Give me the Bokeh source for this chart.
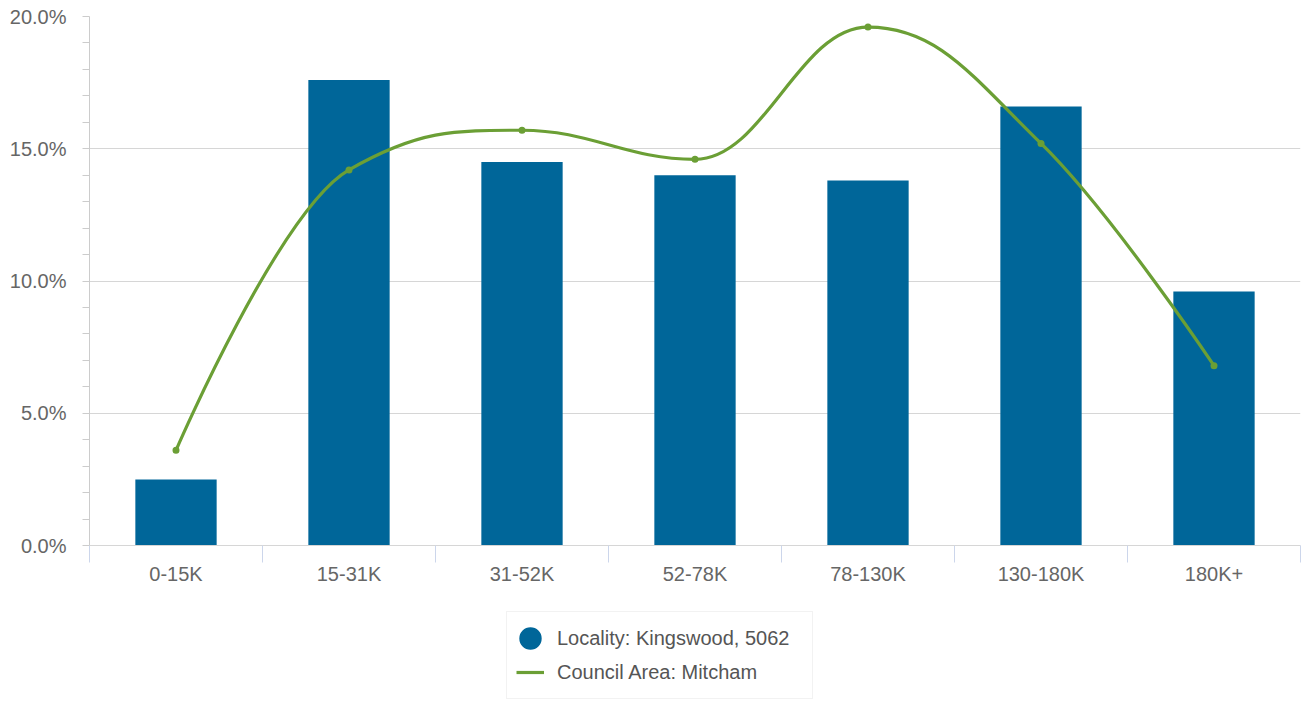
from bokeh.plotting import figure
from bokeh.layouts import column
from bokeh.models import (Range1d, FixedTicker, PrintfTickFormatter, Legend, LegendItem,
                          ColumnDataSource)
from bokeh.embed import file_html
from bokeh.resources import INLINE

categories = ["0-15K", "15-31K", "31-52K", "52-78K", "78-130K", "130-180K", "180K+"]
locality = [2.5, 17.6, 14.5, 14.0, 13.8, 16.6, 9.6]
council = [3.6, 14.2, 15.7, 14.6, 19.6, 15.2, 6.8]
y_ticks = [0, 5, 10, 15, 20]
series_names = ["Locality: Kingswood, 5062", "Council Area: Mitcham"]

BAR = "#006699"
GREEN = "#6b9f35"
TXT = "#666666"
FONT = "Liberation Sans"

centers = [i + 0.5 for i in range(len(categories))]


def spline_controls(xs, ys, smoothing=1.5):
    n = len(xs)
    denom = smoothing + 1
    left = [(xs[i], ys[i]) for i in range(n)]
    right = [(xs[i], ys[i]) for i in range(n)]
    for i in range(1, n - 1):
        px, py = xs[i], ys[i]
        lx, ly = xs[i - 1], ys[i - 1]
        nx, ny = xs[i + 1], ys[i + 1]
        lcx = (smoothing * px + lx) / denom
        lcy = (smoothing * py + ly) / denom
        rcx = (smoothing * px + nx) / denom
        rcy = (smoothing * py + ny) / denom
        if rcx != lcx:
            corr = ((rcy - lcy) * (rcx - px)) / (rcx - lcx) + py - rcy
            lcy += corr
            rcy += corr
        if lcy > ly and lcy > py:
            lcy = max(ly, py); rcy = 2 * py - lcy
        elif lcy < ly and lcy < py:
            lcy = min(ly, py); rcy = 2 * py - lcy
        if rcy > ny and rcy > py:
            rcy = max(ny, py); lcy = 2 * py - rcy
        elif rcy < ny and rcy < py:
            rcy = min(ny, py); lcy = 2 * py - rcy
        left[i] = (lcx, lcy)
        right[i] = (rcx, rcy)
    return left, right


left, right = spline_controls(centers, council)
seg = dict(
    x0=centers[:-1], y0=council[:-1], x1=centers[1:], y1=council[1:],
    cx0=[right[i][0] for i in range(len(centers) - 1)],
    cy0=[right[i][1] for i in range(len(centers) - 1)],
    cx1=[left[i][0] for i in range(1, len(centers))],
    cy1=[left[i][1] for i in range(1, len(centers))],
)

p = figure(width=1301, height=600, output_backend="svg", toolbar_location=None,
           x_range=Range1d(0, len(categories)), y_range=Range1d(0, 20),
           min_border_left=89, min_border_right=1, min_border_top=16, min_border_bottom=55)
p.outline_line_color = None
p.background_fill_color = "white"
p.border_fill_color = "white"

p.vbar(x=centers, top=locality, width=0.47, fill_color=BAR, line_color=None)
p.bezier(source=ColumnDataSource(seg), x0="x0", y0="y0", x1="x1", y1="y1",
         cx0="cx0", cy0="cy0", cx1="cx1", cy1="cy1",
         line_color=GREEN, line_width=3.2)
p.scatter(x=centers, y=council, marker="circle", size=7, fill_color=GREEN, line_color=None)

# x axis
xa = p.xaxis[0]
xa.ticker = FixedTicker(ticks=centers, minor_ticks=list(range(len(categories) + 1)))
xa.major_label_overrides = {c: lab for c, lab in zip(centers, categories)}
xa.major_tick_line_color = None
xa.major_tick_out = 0
xa.major_tick_in = 0
xa.minor_tick_line_color = "#ccd6eb"
xa.minor_tick_out = 17
xa.minor_tick_in = 0
xa.axis_line_color = "#d6d6d6"
xa.major_label_text_font = FONT
xa.major_label_text_font_size = "20px"
xa.major_label_text_color = TXT
xa.major_label_standoff = 0
p.xgrid.grid_line_color = None

# y axis
ya = p.yaxis[0]
ya.ticker = FixedTicker(ticks=y_ticks, minor_ticks=[v for v in range(0, 21) if v % 5])
ya.formatter = PrintfTickFormatter(format="%.1f%%")
ya.axis_line_color = "#cccccc"
ya.major_tick_line_color = "#cccccc"
ya.minor_tick_line_color = "#cccccc"
ya.major_tick_out = 7
ya.major_tick_in = 0
ya.minor_tick_out = 7
ya.minor_tick_in = 0
ya.major_label_standoff = 16
ya.major_label_text_font = FONT
ya.major_label_text_font_size = "20px"
ya.major_label_text_color = TXT
p.ygrid.grid_line_color = "#d6d6d6"

# legend strip below the chart (its renderers lie outside its visible ranges)
lf = figure(width=1301, height=102, output_backend="svg", toolbar_location=None,
            x_axis_location=None, y_axis_location=None,
            x_range=Range1d(0, len(categories)), y_range=Range1d(-40, -20),
            min_border_left=0, min_border_right=0, min_border_top=0, min_border_bottom=0)
lf.outline_line_color = None
lf.grid.grid_line_color = None
lf.background_fill_color = "white"
lf.border_fill_color = "white"
dot = lf.ellipse(x=centers, y=locality, width=10, height=10, width_units="screen",
                 height_units="screen", fill_color=BAR, line_color=None)
ln = lf.line(x=centers, y=council, line_color=GREEN, line_width=3.2)

legend = Legend(items=[
    LegendItem(label=series_names[0], renderers=[dot]),
    LegendItem(label=series_names[1], renderers=[ln]),
], location=(417, 3), orientation="vertical")
legend.label_text_font = FONT
legend.label_text_font_size = "20px"
legend.label_text_color = "#555555"
legend.glyph_width = 28
legend.glyph_height = 34
legend.label_height = 34
legend.label_width = 246
legend.spacing = 0
legend.padding = 9
legend.label_standoff = 13
legend.border_line_color = "#e6e6e6"
legend.background_fill_color = "white"
legend.margin = 0
lf.add_layout(legend)

layout = column(p, lf, spacing=0)
open("out.html", "w").write(file_html(layout, INLINE))
